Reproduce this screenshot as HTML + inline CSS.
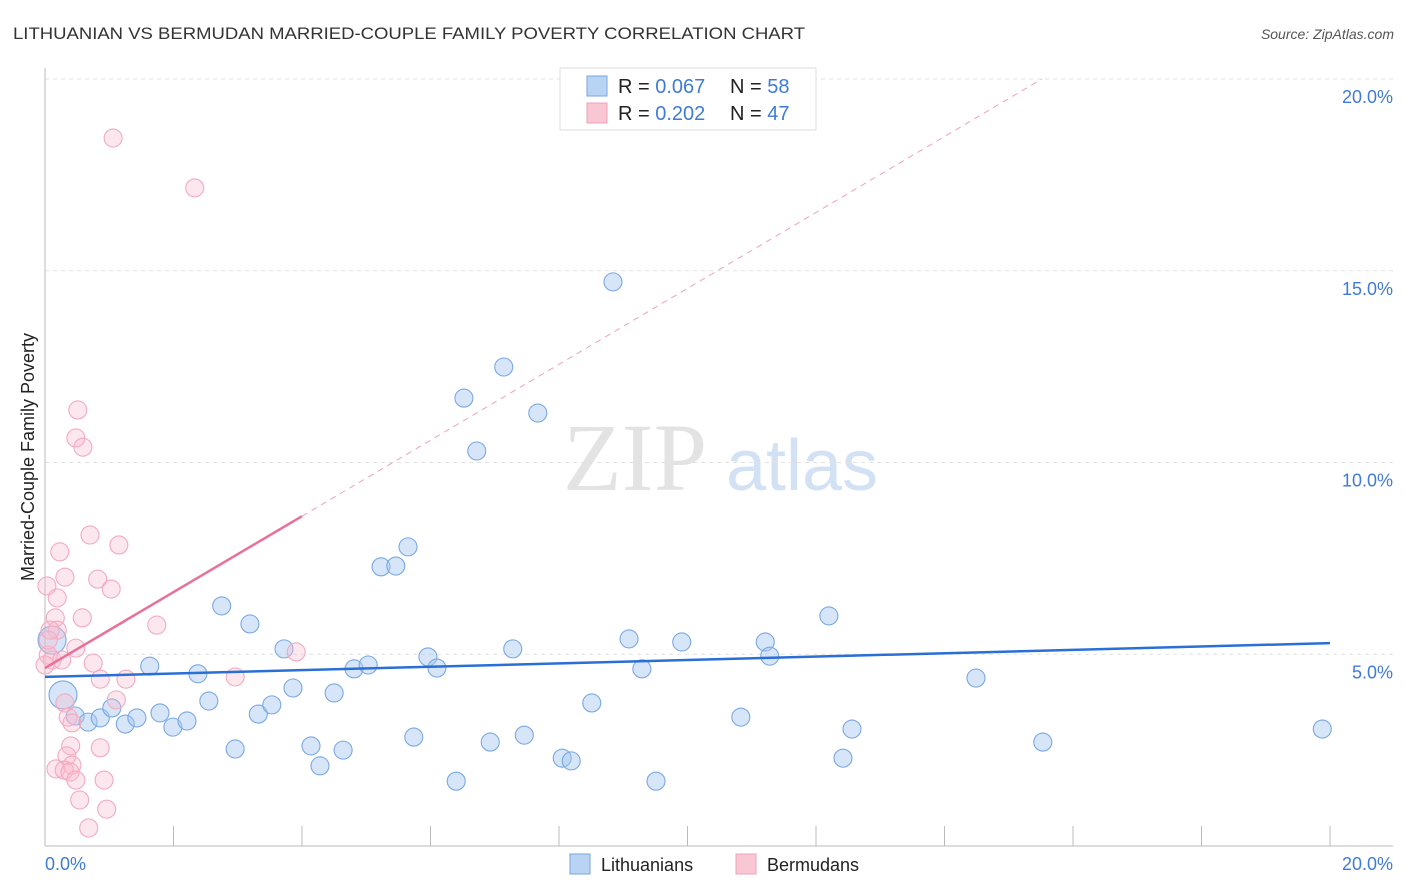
<!DOCTYPE html>
<html><head><meta charset="utf-8"><style>
body{margin:0;background:#fff;font-family:"Liberation Sans",sans-serif;}
svg{display:block}
</style></head><body>
<svg width="1406" height="892" xmlns="http://www.w3.org/2000/svg">
<text x="13" y="39" font-size="17" fill="#333" textLength="792" lengthAdjust="spacingAndGlyphs">LITHUANIAN VS BERMUDAN MARRIED-COUPLE FAMILY POVERTY CORRELATION CHART</text>
<text x="1394" y="39" font-size="14" fill="#555" font-style="italic" text-anchor="end">Source: ZipAtlas.com</text>
<g>
<text x="635" y="490" font-size="96" fill="#ddd" font-family="Liberation Serif" text-anchor="middle" opacity="0.8">ZIP</text>
<text x="802" y="490" font-size="72" fill="#c8daf2" text-anchor="middle" opacity="0.8">atlas</text>
</g>
<g id="grid"></g>
<g id="axes"></g>
<g id="marks"></g>
<text transform="translate(34,457) rotate(-90)" font-size="18" fill="#222" text-anchor="middle">Married-Couple Family Poverty</text>
<text x="45" y="870" font-size="18" fill="#3f7bd6">0.0%</text>
<text x="1393" y="870" font-size="18" fill="#3f7bd6" text-anchor="end">20.0%</text>
<g>
<rect x="560" y="68" width="256" height="62" fill="#fff" stroke="#ddd"/>
<rect x="587" y="76" width="20" height="20" fill="#b8d3f4" stroke="#7aa6e2"/>
<rect x="587" y="103" width="20" height="20" fill="#f9c6d4" stroke="#f0a0b8"/>
<text x="618" y="93" font-size="20" fill="#222">R = <tspan fill="#3f7bd6">0.067</tspan></text>
<text x="730" y="93" font-size="20" fill="#222">N = <tspan fill="#3f7bd6">58</tspan></text>
<text x="618" y="120" font-size="20" fill="#222">R = <tspan fill="#3f7bd6">0.202</tspan></text>
<text x="730" y="120" font-size="20" fill="#222">N = <tspan fill="#3f7bd6">47</tspan></text>
</g>
<g>
<rect x="570" y="854" width="20" height="20" fill="#b8d3f4" stroke="#7aa6e2"/>
<text x="601" y="871" font-size="18" fill="#222">Lithuanians</text>
<rect x="736" y="854" width="20" height="20" fill="#f9c6d4" stroke="#f0a0b8"/>
<text x="767" y="871" font-size="18" fill="#222">Bermudans</text>
</g>
</svg>
<script>
const yTicks=[5,10,15,20];
const yTickLabels=["5.0%","10.0%","15.0%","20.0%"];
const xTicks=[0,2,4,6,8,10,12,14,16,18,20];
const blueX=[0.11,0.28,0.47,0.67,0.86,1.04,1.25,1.43,1.63,1.79,1.99,2.21,2.38,2.55,2.75,2.96,3.19,3.32,3.53,3.72,3.86,4.14,4.28,4.50,4.64,4.81,5.03,5.23,5.46,5.65,5.74,5.96,6.10,6.40,6.52,6.72,6.93,7.14,7.28,7.46,7.67,8.05,8.19,8.51,8.84,9.09,9.29,9.51,9.91,10.83,11.21,11.28,12.20,12.42,12.56,14.49,15.53,19.88];
const blueY=[5.37,3.94,3.39,3.23,3.34,3.60,3.18,3.34,4.69,3.47,3.10,3.26,4.49,3.78,6.26,2.53,5.79,3.44,3.68,5.14,4.12,2.61,2.09,3.99,2.50,4.62,4.72,7.28,7.30,7.80,2.84,4.93,4.64,1.69,11.68,10.30,2.71,12.49,5.14,2.89,11.29,2.29,2.22,3.73,14.71,5.40,4.62,1.69,5.32,3.36,5.32,4.95,6.00,2.29,3.05,4.38,2.71,3.05];
const pinkX=[1.06,2.33,0.51,0.48,0.59,0.70,1.15,0.23,0.31,0.82,1.03,0.03,0.19,0.58,0.16,1.74,0.19,0.05,0.11,0.26,0.48,3.91,0.75,2.96,0.86,1.26,1.11,0.31,0.36,0.42,0.40,0.86,0.34,0.42,0.17,0.30,0.39,0.48,0.92,0.54,0.96,0.68,0.05,0.08,0.00];
const pinkY=[18.46,17.16,11.37,10.64,10.40,8.11,7.85,7.67,7.01,6.96,6.70,6.78,6.47,5.95,5.95,5.76,5.63,4.98,4.85,4.85,5.16,5.06,4.77,4.41,4.35,4.35,3.81,3.73,3.36,3.21,2.61,2.56,2.35,2.11,2.01,1.98,1.93,1.72,1.72,1.20,0.96,0.47,5.37,5.63,4.72];
const blueTrend=[4.41,5.29];
const pinkTrend=[4.64,0.99];
const X=v=>45+v*64.25, Y=v=>846-v*38.35;
const NS="http://www.w3.org/2000/svg";
function mk(tag,attrs,parent){const e=document.createElementNS(NS,tag);for(const k in attrs)e.setAttribute(k,attrs[k]);document.getElementById(parent).appendChild(e);return e;}
yTicks.forEach((t,i)=>{
 const l=mk('line',{x1:45,x2:1393,y1:Y(t),y2:Y(t),stroke:'#e2e2e2','stroke-dasharray':'4,4'},'grid');
 
 
 const tx=mk('text',{x:1393,y:Y(t)+24,'font-size':18,fill:'#3f7bd6','text-anchor':'end'},'grid');
 tx.textContent=yTickLabels[i];
 
 
});
const ya=mk('line',{x1:45,x2:45,y1:68,y2:846,stroke:'#bbb'},'axes');


const xa=mk('line',{x1:45,x2:1393,y1:846,y2:846,stroke:'#bbb'},'axes');


xTicks.forEach(t=>{const l=mk('line',{x1:X(t),x2:X(t),y1:826,y2:846,stroke:'#bbb'},'axes');
 
 });
function dot(x,y,r,fill,stroke,name){const c=mk('circle',{cx:X(x),cy:Y(y),r:r,fill:fill,stroke:stroke,'stroke-width':1.1},'marks');
 
 }
blueX.forEach((x,i)=>dot(x,blueY[i],i<2?14:9,'rgba(164,199,240,0.45)','#7aa8e4','lithuanian-point'));
pinkX.forEach((x,i)=>dot(x,pinkY[i],9,'rgba(248,185,205,0.35)','#f2aac0','bermudan-point'));
const bt=mk('line',{x1:X(0),y1:Y(blueTrend[0]),x2:X(20),y2:Y(blueTrend[1]),stroke:'#2a6fd6','stroke-width':2.5},'marks');


const pe=(20-pinkTrend[0])/pinkTrend[1];
const pd=mk('line',{x1:X(4),y1:Y(pinkTrend[0]+4*pinkTrend[1]),x2:X(pe),y2:Y(20),stroke:'#f0a0b8','stroke-width':1,'stroke-dasharray':'6,5'},'marks');


const pt=mk('line',{x1:X(0),y1:Y(pinkTrend[0]),x2:X(4),y2:Y(pinkTrend[0]+4*pinkTrend[1]),stroke:'#e8709a','stroke-width':2.5},'marks');


</script>
</body></html>
